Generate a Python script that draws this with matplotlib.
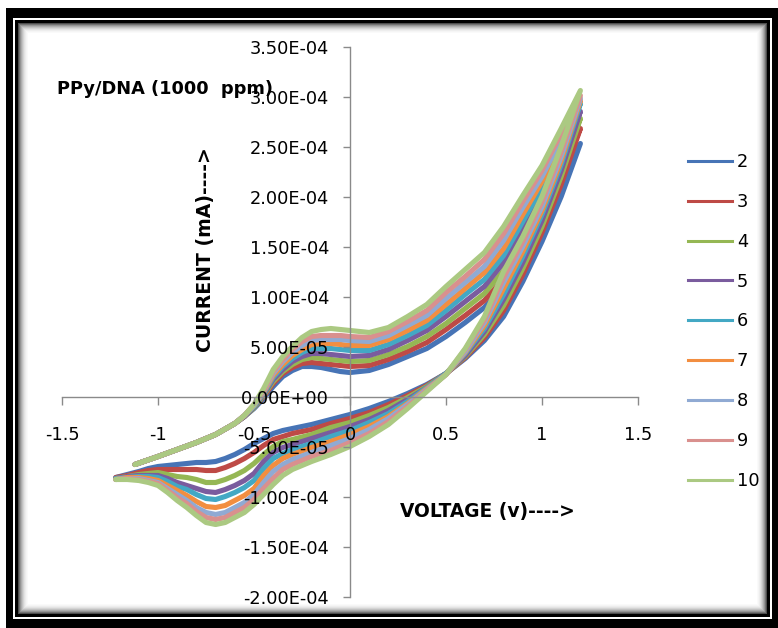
import numpy as np
import matplotlib
matplotlib.use("Agg")
import matplotlib.pyplot as plt
from matplotlib.patches import Rectangle
from matplotlib.lines import Line2D
from matplotlib.ticker import FuncFormatter

# scan numbers (legend)
cycles = ['2', '3', '4', '5', '6', '7', '8', '9', '10']
colors = ['#4774B6', '#BE4A46', '#95B754', '#7A5C9E', '#43A8C4',
          '#F28E40', '#90AAD3', '#D9908E', '#ABC982']

# potentials (V) of the anodic (forward) and cathodic (reverse) branches
E_fwd = [-1.12, -1.0, -0.9, -0.8, -0.7, -0.6, -0.55, -0.5, -0.45, -0.4, -0.35, -0.3,
         -0.25, -0.2, -0.15, -0.1, -0.05, 0.0, 0.1, 0.2, 0.3, 0.4, 0.5, 0.6,
         0.7, 0.8, 0.9, 1.0, 1.1, 1.2]
E_rev = [1.1, 1.0, 0.9, 0.8, 0.7, 0.6, 0.5, 0.4, 0.3, 0.2, 0.1, 0.0, -0.1, -0.2,
         -0.3, -0.35, -0.4, -0.45, -0.5, -0.55, -0.6, -0.65, -0.7, -0.75, -0.8,
         -0.85, -0.9, -0.95, -1.0, -1.05, -1.1, -1.16, -1.22]

# currents in units of 1E-05, one row per scan (2 ... 10)
I_fwd = [
    [-6.8, -6.0, -5.3, -4.6, -3.8, -2.7, -2.0, -1.2, -0.2, 1.0, 2.0, 2.6, 3.0, 3.0, 2.9, 2.7, 2.5, 2.4,
     2.6, 3.2, 4.0, 4.8, 6.0, 7.4, 8.9, 11.0, 14.3, 18.0, 21.7, 25.3],
    [-6.8, -6.0, -5.3, -4.6, -3.8, -2.7, -2.0, -1.1, 0.0, 1.3, 2.3, 2.9, 3.3, 3.4, 3.3, 3.2, 3.1, 3.0,
     3.1, 3.7, 4.5, 5.4, 6.7, 8.1, 9.6, 11.8, 15.1, 18.8, 22.5, 26.8],
    [-6.8, -6.0, -5.3, -4.6, -3.8, -2.7, -2.0, -1.1, 0.1, 1.5, 2.5, 3.2, 3.7, 3.9, 3.8, 3.7, 3.6, 3.5,
     3.6, 4.2, 5.0, 6.0, 7.3, 8.8, 10.3, 12.6, 15.9, 19.5, 23.2, 27.8],
    [-6.8, -6.0, -5.3, -4.6, -3.8, -2.7, -2.0, -1.0, 0.2, 1.7, 2.7, 3.5, 4.0, 4.3, 4.3, 4.2, 4.1, 4.0,
     4.1, 4.7, 5.6, 6.6, 8.0, 9.5, 11.0, 13.4, 16.7, 20.2, 23.9, 28.5],
    [-6.8, -6.0, -5.3, -4.6, -3.8, -2.7, -1.9, -1.0, 0.3, 1.9, 3.0, 3.8, 4.4, 4.8, 4.8, 4.8, 4.7, 4.6,
     4.6, 5.2, 6.1, 7.1, 8.6, 10.2, 11.7, 14.1, 17.5, 20.9, 24.6, 29.3],
    [-6.8, -6.0, -5.3, -4.6, -3.8, -2.7, -1.9, -0.9, 0.4, 2.1, 3.2, 4.1, 4.7, 5.2, 5.3, 5.3, 5.2, 5.1,
     5.1, 5.7, 6.6, 7.6, 9.2, 10.8, 12.4, 14.8, 18.2, 21.5, 25.2, 29.6],
    [-6.8, -6.0, -5.3, -4.6, -3.8, -2.7, -1.9, -0.9, 0.5, 2.3, 3.5, 4.4, 5.1, 5.6, 5.7, 5.7, 5.7, 5.6,
     5.5, 6.1, 7.1, 8.1, 9.8, 11.4, 13.0, 15.6, 18.9, 22.0, 25.7, 29.8],
    [-6.8, -6.0, -5.3, -4.6, -3.8, -2.7, -1.9, -0.8, 0.6, 2.5, 3.7, 4.7, 5.5, 6.0, 6.1, 6.1, 6.1, 6.0,
     5.9, 6.5, 7.5, 8.6, 10.4, 12.0, 13.7, 16.3, 19.5, 22.6, 26.3, 30.1],
    [-6.8, -6.0, -5.3, -4.6, -3.8, -2.7, -1.9, -0.8, 0.8, 2.7, 4.0, 5.0, 5.9, 6.5, 6.7, 6.8, 6.7, 6.6,
     6.4, 6.9, 8.0, 9.2, 11.0, 12.7, 14.4, 17.0, 20.1, 23.1, 26.8, 30.6],
]
I_rev = [
    [20.0, 15.5, 11.5, 8.0, 5.6, 3.8, 2.3, 1.2, 0.3, -0.5, -1.2, -1.8, -2.3, -2.8, -3.2,
     -3.4, -3.7, -4.2, -4.7, -5.3, -5.8, -6.2, -6.5, -6.6, -6.6, -6.7, -6.8, -6.9, -7.0, -7.2, -7.5, -7.8, -8.1],
    [21.2, 16.4, 12.2, 8.6, 5.9, 3.9, 2.3, 1.1, 0.1, -0.8, -1.6, -2.2, -2.7, -3.3, -3.7,
     -4.0, -4.3, -4.9, -5.6, -6.2, -6.7, -7.1, -7.4, -7.4, -7.3, -7.3, -7.3, -7.3, -7.3, -7.4, -7.6, -7.9, -8.1],
    [22.0, 17.0, 12.8, 9.1, 6.2, 4.0, 2.3, 1.0, -0.1, -1.1, -1.9, -2.6, -3.1, -3.8, -4.3,
     -4.5, -5.0, -5.8, -6.7, -7.4, -7.9, -8.3, -8.6, -8.6, -8.3, -8.1, -8.0, -7.8, -7.6, -7.7, -7.8, -8.0, -8.2],
    [22.6, 17.6, 13.4, 9.7, 6.5, 4.1, 2.3, 0.9, -0.3, -1.4, -2.3, -3.0, -3.6, -4.2, -4.8,
     -5.1, -5.6, -6.5, -7.7, -8.4, -8.9, -9.3, -9.6, -9.5, -9.2, -8.9, -8.6, -8.2, -7.9, -7.9, -7.9, -8.0, -8.2],
    [23.2, 18.2, 14.0, 10.2, 6.8, 4.3, 2.3, 0.9, -0.5, -1.7, -2.6, -3.4, -4.0, -4.7, -5.3,
     -5.7, -6.2, -7.2, -8.4, -9.1, -9.6, -10.0, -10.3, -10.2, -9.8, -9.3, -9.0, -8.5, -8.1, -8.0, -8.0, -8.1, -8.2],
    [23.6, 18.6, 14.5, 10.8, 7.1, 4.4, 2.2, 0.8, -0.7, -2.0, -3.0, -3.8, -4.5, -5.1, -5.8,
     -6.2, -6.9, -7.9, -9.2, -9.9, -10.4, -10.9, -11.1, -11.0, -10.5, -9.9, -9.4, -8.9, -8.4, -8.2, -8.1, -8.1, -8.3],
    [24.0, 19.0, 15.0, 11.4, 7.4, 4.5, 2.2, 0.7, -0.8, -2.2, -3.3, -4.2, -4.9, -5.6, -6.3,
     -6.8, -7.5, -8.6, -9.8, -10.6, -11.1, -11.6, -11.8, -11.6, -11.1, -10.4, -9.8, -9.2, -8.6, -8.4, -8.2, -8.2, -8.3],
    [24.5, 19.5, 15.5, 11.9, 7.7, 4.7, 2.2, 0.6, -1.0, -2.5, -3.7, -4.6, -5.4, -6.0, -6.8,
     -7.3, -8.2, -9.2, -10.3, -11.1, -11.6, -12.1, -12.3, -12.1, -11.5, -10.7, -10.1, -9.4, -8.7, -8.5, -8.3, -8.2, -8.3],
    [25.0, 20.0, 16.0, 12.5, 8.0, 4.8, 2.2, 0.5, -1.2, -2.8, -4.0, -5.0, -5.8, -6.5, -7.3,
     -7.9, -8.8, -9.8, -10.8, -11.6, -12.1, -12.6, -12.8, -12.6, -11.9, -11.1, -10.4, -9.6, -8.9, -8.6, -8.4, -8.3, -8.3],
]
UNIT = 1e-5

x_ticks = [-1.5, -1, -0.5, 0, 0.5, 1, 1.5]
x_ticklabels = ['-1.5', '-1', '-0.5', '0', '0.5', '1', '1.5']
y_ticks = [3.5e-4, 3.0e-4, 2.5e-4, 2.0e-4, 1.5e-4, 1.0e-4, 5.0e-5, 0.0,
           -5.0e-5, -1.0e-4, -1.5e-4, -2.0e-4]

W, H = 778, 628
fig = plt.figure(figsize=(W / 100, H / 100), dpi=100)
fig.patch.set_facecolor('white')


def px_rect(x0, y0, x1, y1, **kw):
    # rectangle given in pixel coordinates, y measured from the top
    r = Rectangle((x0 / W, 1 - y1 / H), (x1 - x0) / W, (y1 - y0) / H,
                  transform=fig.transFigure, lw=0, **kw)
    fig.add_artist(r)
    return r


# picture frame: black border, thin white gap, black line, soft inner shadow
px_rect(6, 8, W, H, color='black', zorder=-5)
px_rect(13, 18, W - 6, H - 9, color='white', zorder=-4.9)
px_rect(15, 20, W - 8, H - 11, color='black', zorder=-4.8)
greys = [0.30, 0.45, 0.58, 0.68, 0.76, 0.83, 0.89, 0.93, 0.96, 0.98, 1.0]
for i, g in enumerate(greys):
    px_rect(18 + i, 23 + i, W - 11 - i, H - 14 - i, color=str(g), zorder=-4.7 + i * 0.01)

ax = fig.add_axes([62 / W, 1 - 596.5 / H, 576 / W, 550 / H])
ax.set_zorder(1)
ax.patch.set_visible(False)

for k in range(len(cycles)):
    x = np.concatenate([E_fwd, E_rev])
    y = np.concatenate([I_fwd[k], I_rev[k]]) * UNIT
    ax.plot(x, y, color=colors[k], lw=3.7, solid_joinstyle='round',
            solid_capstyle='round', zorder=2)

ax.set_xlim(-1.5, 1.5)
ax.set_ylim(-2.0e-4, 3.5e-4)

for s in ['top', 'right']:
    ax.spines[s].set_visible(False)
ax.spines['left'].set_position(('data', 0))
ax.spines['bottom'].set_position(('data', 0))
for s in ['left', 'bottom']:
    ax.spines[s].set_color('#8a8a8a')
    ax.spines[s].set_linewidth(1.0)

ax.set_xticks(x_ticks)
ax.set_xticklabels(x_ticklabels)
ax.set_yticks(y_ticks)
ax.yaxis.set_major_formatter(FuncFormatter(lambda v, p: f'{v:.2E}'))
ax.tick_params(axis='both', colors='#8a8a8a', labelcolor='black', labelsize=12.8,
               direction='out', width=1.0)
ax.tick_params(axis='x', length=6, pad=15)
ax.tick_params(axis='y', length=5, pad=10)
ax.set_axisbelow(False)

fig.text(57 / W, 1 - 89 / H, 'PPy/DNA (1000  ppm)', fontsize=12.8,
         fontweight='bold', ha='left', va='center', color='black', zorder=5)
fig.text(206 / W, 1 - 250 / H, 'CURRENT (mA)---->', fontsize=13.6,
         fontweight='bold', rotation=90, ha='center', va='center', color='black')
fig.text(400 / W, 1 - 512 / H, 'VOLTAGE (v)---->', fontsize=13.4,
         fontweight='bold', ha='left', va='center', color='black')

handles = [Line2D([], [], color=c, lw=2.2) for c in colors]
fig.legend(handles, cycles, loc='upper left',
           bbox_to_anchor=(688 / W, 1 - 153 / H), frameon=False,
           fontsize=12.8, handlelength=2.45, handletextpad=0.3,
           labelspacing=1.23, borderpad=0, borderaxespad=0)

fig.savefig('out.png', dpi=100)
